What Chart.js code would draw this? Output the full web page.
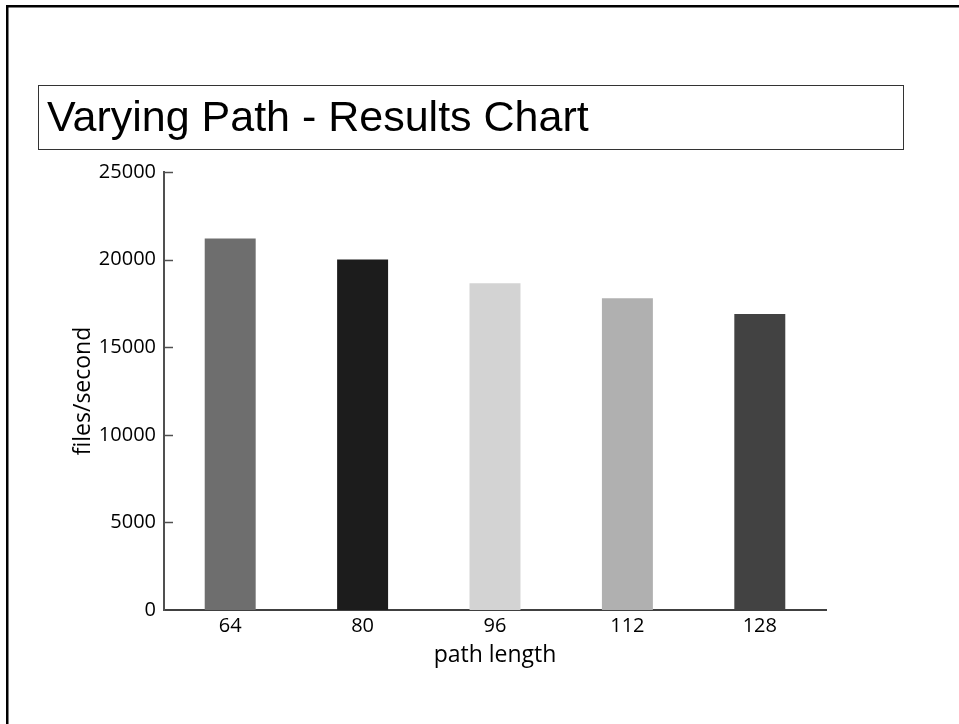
<!DOCTYPE html>
<html>
<head>
<meta charset="utf-8">
<title>Varying Path - Results Chart</title>
<script src="https://cdn.jsdelivr.net/npm/chart.js@4"></script>
<style>
  html, body { margin: 0; padding: 0; background: #ffffff; }
  #wrap { position: relative; width: 959px; height: 724px; }
</style>
</head>
<body>
<div id="wrap"><canvas id="chart"></canvas></div>
<script>
// Throughput for each path length
const pathLengths = ['64', '80', '96', '112', '128'];
const filesPerSecond = [21200, 20000, 18650, 17800, 16900];
const barColors = ['#6e6e6e', '#1c1c1c', '#d3d3d3', '#b0b0b0', '#424242'];
const yTickValues = [0, 5000, 10000, 15000, 20000, 25000];

const AXIS_Y_COLOR = '#505050';
const AXIS_X_COLOR = '#404040';

// Page frame (top and left rules) and the outlined title box
const framePlugin = {
  id: 'frame',
  beforeDraw(chart) {
    const ctx = chart.ctx;
    ctx.save();
    ctx.fillStyle = '#000000';
    ctx.fillRect(6, 5, chart.width - 6, 2.5);
    ctx.fillRect(6, 5, 2.5, chart.height - 5);
    const tb = chart.titleBlock;
    ctx.strokeStyle = '#333333';
    ctx.lineWidth = 1;
    ctx.strokeRect(38.5, tb.top + 0.5, 865, 64);
    ctx.restore();
  }
};

// Short tick marks pointing into the plot from the value axis
const innerTicksPlugin = {
  id: 'innerTicks',
  afterDraw(chart) {
    const y = chart.scales.y;
    const ctx = chart.ctx;
    const left = chart.chartArea.left;
    ctx.save();
    ctx.strokeStyle = AXIS_Y_COLOR;
    ctx.lineWidth = 1.5;
    y.ticks.forEach((t, i) => {
      if (t.value === 0) return;
      const py = Math.round(y.getPixelForTick(i)) + 0.5;
      ctx.beginPath();
      ctx.moveTo(left, py);
      ctx.lineTo(left + 9, py);
      ctx.stroke();
    });
    ctx.restore();
  }
};

new Chart(document.getElementById('chart'), {
  type: 'bar',
  data: {
    labels: pathLengths,
    datasets: [{
      label: 'files/second',
      data: filesPerSecond,
      backgroundColor: barColors,
      borderWidth: 0,
      categoryPercentage: 1.0,
      barPercentage: 0.385
    }]
  },
  options: {
    responsive: true,
    maintainAspectRatio: false,
    animation: false,
    layout: { padding: { top: 85, left: 47, right: 133, bottom: 0 } },
    plugins: {
      legend: { display: false },
      tooltip: { enabled: false },
      title: {
        display: true,
        text: 'Varying Path - Results Chart',
        align: 'start',
        color: '#000000',
        font: { family: '"Liberation Sans", Arial, sans-serif', size: 43, weight: 'normal', lineHeight: 1 },
        padding: { top: 13, bottom: 31 }
      }
    },
    scales: {
      x: {
        grid: { display: false, drawTicks: false },
        border: { display: true, color: AXIS_X_COLOR, width: 2 },
        ticks: {
          color: '#000000',
          padding: 4,
          font: { family: '"Open Sans", sans-serif', size: 20 }
        },
        title: {
          display: true,
          text: 'path length',
          color: '#000000',
          font: { family: '"Open Sans", sans-serif', size: 23 },
          padding: { top: 0, bottom: 55 }
        },
        afterFit(scale) { scale.height = 114; }
      },
      y: {
        min: 0,
        max: 25000,
        grid: { display: false, drawTicks: false },
        border: { display: true, color: AXIS_Y_COLOR, width: 2 },
        afterBuildTicks(scale) { scale.ticks = yTickValues.map(v => ({ value: v })); },
        ticks: {
          color: '#000000',
          padding: 8,
          font: { family: '"Open Sans", sans-serif', size: 20 },
          callback: (value) => String(value)
        },
        title: {
          display: true,
          text: 'files/second',
          color: '#000000',
          font: { family: '"Open Sans", sans-serif', size: 23 },
          padding: { top: 23, bottom: 0 }
        },
        afterFit(scale) { scale.width = 117; }
      }
    }
  },
  plugins: [framePlugin, innerTicksPlugin]
});
</script>
</body>
</html>
